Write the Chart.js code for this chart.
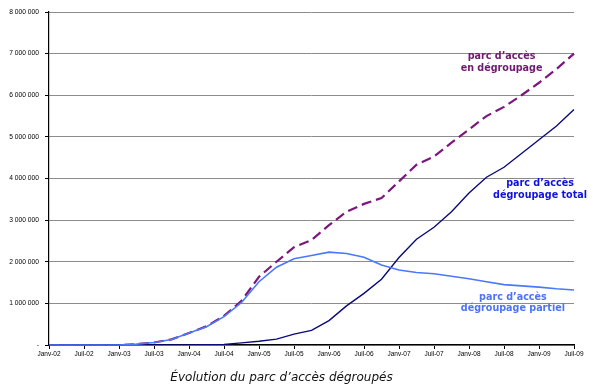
<!DOCTYPE html>
<html><head><meta charset="utf-8">
<script src="https://cdn.jsdelivr.net/npm/chart.js@4"></script>
<style>html,body{margin:0;padding:0;background:#fff}#wrap{width:593px;height:390px;position:relative}</style>
</head><body><div id="wrap"><canvas id="c" width="593" height="390"></canvas></div>
<script>
const categories = ['T1-02','T2-02','T3-02','T4-02','T1-03','T2-03','T3-03','T4-03','T1-04','T2-04','T3-04','T4-04','T1-05','T2-05','T3-05','T4-05','T1-06','T2-06','T3-06','T4-06','T1-07','T2-07','T3-07','T4-07','T1-08','T2-08','T3-08','T4-08','T1-09','T2-09','T3-09'];
const tickLabels = ['Janv-02','Juil-02','Janv-03','Juil-03','Janv-04','Juil-04','Janv-05','Juil-05','Janv-06','Juil-06','Janv-07','Juil-07','Janv-08','Juil-08','Janv-09','Juil-09'];
const parcDegroupage = [0,0,0,0,0,20000,60000,135000,290000,450000,700000,1060000,1640000,2000000,2350000,2520000,2880000,3200000,3390000,3530000,3930000,4330000,4530000,4860000,5180000,5500000,5720000,6000000,6300000,6630000,7000000];
const degroupageTotal = [0,0,0,0,0,0,0,0,0,5000,15000,50000,90000,140000,260000,350000,585000,940000,1240000,1580000,2100000,2540000,2830000,3200000,3650000,4030000,4270000,4600000,4930000,5260000,5660000];
const degroupagePartiel = [0,0,0,0,0,20000,60000,130000,290000,440000,680000,1020000,1520000,1870000,2070000,2150000,2230000,2200000,2110000,1920000,1800000,1740000,1710000,1650000,1590000,1520000,1450000,1420000,1390000,1350000,1320000];
const caption = 'Évolution du parc d’accès dégroupés';
const seriesLabels = [
  {lines:['parc d’accès','en dégroupage'], idx:25.86, val:6920000, color:'#6e1a6e', gap:12},
  {lines:['parc d’accès','dégroupage total'], idx:28.06, val:3890000, color:'#1010e0', gap:12},
  {lines:['parc d’accès','dégroupage partiel'], idx:26.51, val:1150000, color:'#4d74f5', gap:11}
];

const labelPlugin = {
  id:'labels',
  afterDatasetsDraw(chart){
    const ctx = chart.ctx, xs = chart.scales.x, ys = chart.scales.y;
    ctx.save();
    ctx.font = 'bold 9.6px "DejaVu Sans"';
    ctx.textAlign = 'center';
    ctx.textBaseline = 'middle';
    seriesLabels.forEach(l => {
      const x = xs.getPixelForValue(l.idx), y = ys.getPixelForValue(l.val);
      ctx.fillStyle = l.color;
      l.lines.forEach((t,i) => ctx.fillText(t, x, y + i*l.gap));
    });
    ctx.font = 'oblique 12px "DejaVu Sans"';
    ctx.fillStyle = '#111';
    ctx.fillText(caption, (xs.left + xs.right)/2 - 30, 378);
    ctx.restore();
  }
};

new Chart(document.getElementById('c'), {
  type:'line',
  data:{
    labels: categories,
    datasets:[
      {label:'parc d’accès dégroupage partiel', data:degroupagePartiel, borderColor:'#4a78ff', borderWidth:1.6, pointRadius:0, tension:0, fill:false},
      {label:'parc d’accès dégroupage total', data:degroupageTotal, borderColor:'#0a0a7a', borderWidth:1.4, pointRadius:0, tension:0, fill:false},
      {label:'parc d’accès en dégroupage', data:parcDegroupage, borderColor:'#7d167d', borderWidth:2.2, borderDash:[10,5], pointRadius:0, tension:0, fill:false}
    ]
  },
  options:{
    responsive:false, animation:false,
    layout:{padding:{left:0, right:19, top:12, bottom:0}},
    plugins:{legend:{display:false}, tooltip:{enabled:false}, title:{display:false}},
    scales:{
      x:{
        offset:false,
        afterFit(s){ s.height = 45; },
        grid:{drawOnChartArea:false, color:'#000', tickColor:'#000', tickLength:4},
        border:{color:'#000', width:1.2},
        ticks:{autoSkip:false, maxRotation:0, minRotation:0, padding:1, color:'#000',
          font:{family:'"Liberation Sans", Arial', size:6.5},
          callback(v, i){ return i % 2 === 0 ? tickLabels[i/2] : null; }}
      },
      y:{
        min:0, max:8000000,
        afterFit(s){ s.width = 49; },
        grid:{color:'#8c8c8c', lineWidth:1, tickColor:'#000', tickLength:4},
        border:{color:'#000', width:1.2},
        ticks:{stepSize:1000000, padding:6, color:'#000',
          font:{family:'"Liberation Sans", Arial', size:6.7},
          callback(v){ return v === 0 ? '-' : String(v).replace(/\B(?=(\d{3})+(?!\d))/g, ' '); }}
      }
    }
  },
  plugins:[labelPlugin]
});
</script></body></html>
